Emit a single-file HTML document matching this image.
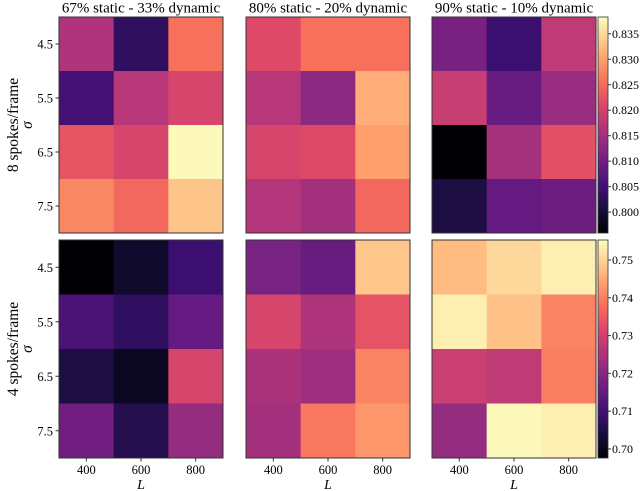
<!DOCTYPE html>
<html><head><meta charset="utf-8"><style>
body{margin:0;background:#fff}
svg{display:block;font-family:"Liberation Serif",serif}
</style></head><body>
<svg id="c" width="640" height="491" viewBox="0 0 640 491">
<defs>
<linearGradient id="magma" x1="0" y1="1" x2="0" y2="0">
<stop offset="0" stop-color="#000004"/><stop offset="0.1" stop-color="#140e36"/><stop offset="0.2" stop-color="#3b0f70"/><stop offset="0.3" stop-color="#641a80"/><stop offset="0.4" stop-color="#8c2981"/><stop offset="0.5" stop-color="#b73779"/><stop offset="0.6" stop-color="#de4968"/><stop offset="0.7" stop-color="#f7705c"/><stop offset="0.8" stop-color="#fe9f6d"/><stop offset="0.9" stop-color="#fecf92"/><stop offset="1" stop-color="#fcfdbf"/>
</linearGradient>
</defs>
</svg>
<script>
const panelTitles = ["67% static - 33% dynamic","80% static - 20% dynamic","90% static - 10% dynamic"];
const rowLabels = ["8 spokes/frame","4 spokes/frame"];
const sigmaLabels = ["4.5","5.5","6.5","7.5"];
const lLabels = ["400","600","800"];
// top row (8 spokes/frame): [panel][sigma][L]
const top67 = [[0.8163,0.8031,0.8256],[0.8052,0.8171,0.8205],[0.8226,0.8205,0.8379],[0.8277,0.8247,0.8332]];
const top80 = [[0.8213,0.8256,0.8256],[0.8171,0.8129,0.8311],[0.8205,0.8213,0.8298],[0.8167,0.8150,0.8247]];
const top90 = [[0.8107,0.8044,0.8180],[0.8188,0.8090,0.8141],[0.7959,0.8154,0.8222],[0.8010,0.8086,0.8095]];
// bottom row (4 spokes/frame)
const bot67 = [[0.6976,0.7022,0.7091],[0.7114,0.7074,0.7149],[0.7045,0.7011,0.7310],[0.7166,0.7057,0.7218]];
const bot80 = [[0.7178,0.7155,0.7484],[0.7310,0.7253,0.7339],[0.7247,0.7230,0.7403],[0.7236,0.7391,0.7426]];
const bot90 = [[0.7472,0.7507,0.7536],[0.7536,0.7478,0.7403],[0.7293,0.7276,0.7397],[0.7218,0.7547,0.7536]];
const topRange = [0.7959,0.8383];
const botRange = [0.6976,0.7553];
const topTicks = ["0.800","0.805","0.810","0.815","0.820","0.825","0.830","0.835"];
const botTicks = ["0.70","0.71","0.72","0.73","0.74","0.75"];

const stops=[[0,0,4],[20,14,54],[59,15,112],[100,26,128],[140,41,129],[183,55,121],[222,73,104],[247,112,92],[254,159,109],[254,207,146],[252,253,191]];
function magma(t){t=Math.max(0,Math.min(1,t));const f=t*10,i=Math.min(9,Math.floor(f)),r=f-i;const a=stops[i],b=stops[i+1];return `rgb(${a.map((v,k)=>Math.round(v+(b[k]-v)*r)).join(',')})`;}
const NS="http://www.w3.org/2000/svg";const svg=document.getElementById('c');
function mk(tag,attrs,parent){const e=document.createElementNS(NS,tag);for(const k in attrs)e.setAttribute(k,attrs[k]);(parent||svg).appendChild(e);return e;}
const panelX=[[59,223],[246,410],[432,596]];
const rowY=[[17,233],[240,458]];
const data=[[top67,top80,top90],[bot67,bot80,bot90]];
const ranges=[topRange,botRange];
const ticksets=[topTicks,botTicks];
for(let r=0;r<2;r++){
  const [y0,y1]=rowY[r];const ch=(y1-y0)/4;
  const [mn,mx]=ranges[r];
  for(let p=0;p<3;p++){
    const [x0,x1]=panelX[p];const cw=(x1-x0)/3;
    const g=mk('g',{});
    
    
    data[r][p].forEach((row,i)=>row.forEach((v,j)=>{
      const c=mk('rect',{x:x0+j*cw,y:y0+i*ch,width:cw+0.5,height:ch+0.5,fill:magma((v-mn)/(mx-mn))},g);
      
      
    }));
    const fr=mk('rect',{x:x0,y:y0,width:x1-x0,height:y1-y0,fill:'none',stroke:'#333','stroke-width':1},g);
    
    
    if(r===0){const t=mk('text',{x:(x0+x1)/2,y:12.5,'text-anchor':'middle','font-size':15});t.textContent=panelTitles[p];
      
      }
    if(p===0){
      sigmaLabels.forEach((s,i)=>{const yc=y0+(i+0.5)*ch;mk('line',{x1:x0-3.5,x2:x0,y1:yc,y2:yc,stroke:'#333'});
        const t=mk('text',{x:x0-6,y:yc+4.5,'text-anchor':'end','font-size':12.5});t.textContent=s;
        
        });
      const yc=(y0+y1)/2;
      const t1=mk('text',{x:0,y:0,transform:`translate(18,${yc}) rotate(-90)`,'text-anchor':'middle','font-size':15.5});t1.textContent=rowLabels[r];
      
      
      const t2=mk('text',{x:0,y:0,transform:`translate(32,${yc}) rotate(-90)`,'text-anchor':'middle','font-size':15.5,'font-style':'italic'});t2.textContent='σ';
      
      
    }
    if(r===1){
      lLabels.forEach((s,j)=>{const xc=x0+(j+0.5)*cw;mk('line',{x1:xc,x2:xc,y1:y1,y2:y1+3.5,stroke:'#333'});
        const t=mk('text',{x:xc,y:y1+16,'text-anchor':'middle','font-size':12.5});t.textContent=s;
        
        });
      const t=mk('text',{x:(x0+x1)/2,y:489,'text-anchor':'middle','font-size':14,'font-style':'italic'});t.textContent='L';
      
      
    }
  }
  // colorbar
  const cb=mk('rect',{x:598,y:y0,width:10,height:y1-y0,fill:'url(#magma)',stroke:'#333','stroke-width':0.8});
  
  
  ticksets[r].forEach(s=>{const v=parseFloat(s);const y=y1-(v-mn)/(mx-mn)*(y1-y0);
    mk('line',{x1:608,x2:611,y1:y,y2:y,stroke:'#333'});
    const t=mk('text',{x:612,y:y+4,'font-size':12});t.textContent=s;
    
    });
}
</script>
</body></html>
